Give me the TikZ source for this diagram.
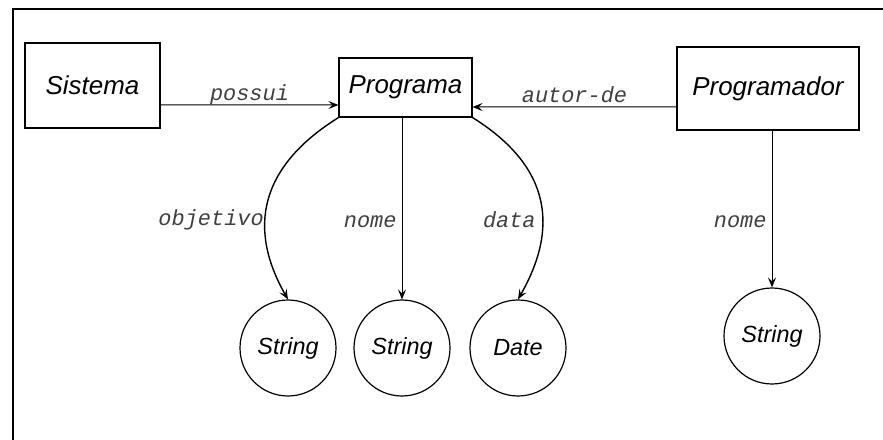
\documentclass[tikz,border=0pt]{standalone}
\usepackage{fontspec}
\setsansfont{Liberation Sans}
\setmonofont{Liberation Mono}
\usetikzlibrary{arrows.meta}

\begin{document}
\begin{tikzpicture}[x=1bp, y=1bp,
    classe/.style={draw, line width=1.2bp, inner sep=0pt,
        font=\sffamily\itshape\fontsize{26}{30}\selectfont},
    tipo/.style={draw, circle, line width=1.2bp, minimum size=96bp, inner sep=0pt,
        font=\sffamily\itshape\fontsize{23.5}{28}\selectfont},
    rel/.style={line width=1bp, -{Stealth[length=10bp,width=8bp,inset=4bp]}},
    curva/.style={rel, line width=1.4bp},
    rotulo/.style={text=black!75, font=\ttfamily\itshape\fontsize{22}{26}\selectfont, inner sep=1bp}]

    % 1. Page and frame
    \useasboundingbox (0,0) rectangle (883,-440);
    \draw[line width=1.6bp] (883,-9) -- (13,-9) -- (13,-440);

    % 2. Classes
    \node[classe, minimum width=135bp, minimum height=85bp] (sistema) at (92.5,-85.5) {Sistema};
    \node[classe, minimum width=133bp, minimum height=59bp] (programa) at (405.5,-87.5) {Programa};
    \node[classe, minimum width=182bp, minimum height=83bp] (programador) at (768,-88.5) {Programador};

    % 3. Attribute types
    \node[tipo] (str1) at (288,-348) {String};
    \node[tipo] (str2) at (402,-348) {String};
    \node[tipo] (data) at (518,-348) {Date};
    \node[tipo] (str3) at (772,-336) {String};

    % 4. Relations between classes
    \draw[rel] ([yshift=-19.5bp]sistema.east) -- node[rotulo, anchor=base, yshift=4bp] {possui} ([yshift=-17.5bp]programa.west);
    \draw[rel] ([yshift=-18.5bp]programador.west) -- node[rotulo, anchor=base, yshift=4bp] {autor-de} ([yshift=-19.5bp]programa.east);

    % 5. Attributes
    \draw[curva] (programa.south west) .. controls +(-80,-50) and +(-40,70) .. node[rotulo, pos=0.6, anchor=east] {objetivo} (str1.north);
    \draw[rel] (str2.north |- programa.south) -- node[rotulo, pos=0.57, anchor=east, inner sep=5bp] {nome} (str2.north);
    \draw[curva] (programa.south east) .. controls +(80,-50) and +(40,70) .. node[rotulo, pos=0.6, anchor=east, inner sep=6bp] {data} (data.north);
    \draw[rel] (str3.north |- programador.south) -- node[rotulo, pos=0.58, anchor=east, inner sep=5bp] {nome} (str3.north);

\end{tikzpicture}
\end{document}
